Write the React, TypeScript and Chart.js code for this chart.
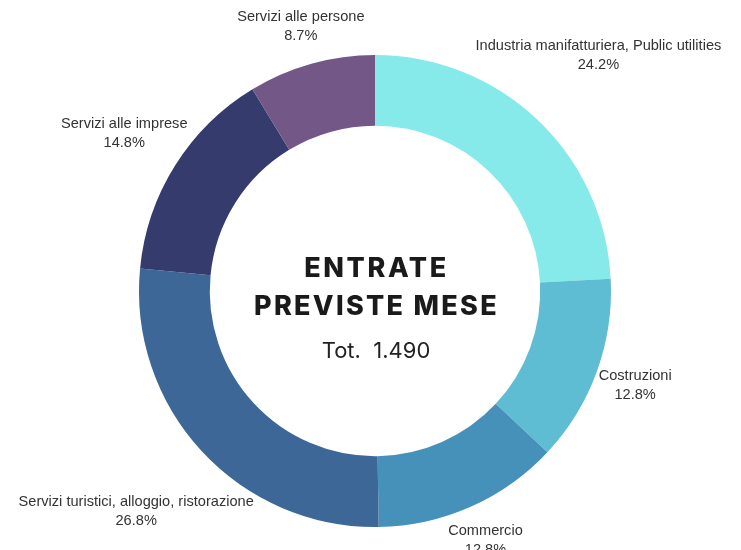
import React, { useEffect, useRef } from "react";
import { Chart, registerables } from "chart.js";

Chart.register(...registerables);

const categories = [
  "Industria manifatturiera, Public utilities",
  "Costruzioni",
  "Commercio",
  "Servizi turistici, alloggio, ristorazione",
  "Servizi alle imprese",
  "Servizi alle persone",
];
const shares = [24.2, 12.8, 12.8, 26.8, 14.8, 8.7];
const colors = ["#87EAEA", "#5EBCD3", "#4591BA", "#3C6796", "#353B6D", "#735786"];
const centerTitle = ["ENTRATE", "PREVISTE MESE"];
const centerTotal = "Tot.  1.490";

const labelPlugin = {
  id: "outerLabels",
  afterDatasetsDraw(chart: any) {
    const ctx = chart.ctx;
    const meta = chart.getDatasetMeta(0);
    ctx.save();
    ctx.font = "14.6px 'Liberation Sans', Arial, sans-serif";
    ctx.fillStyle = "#333333";
    ctx.textAlign = "center";
    ctx.textBaseline = "middle";
    const lineH = 19;
    meta.data.forEach((arc: any, i: number) => {
      const { x, y, startAngle, endAngle, outerRadius } = arc.getProps(
        ["x", "y", "startAngle", "endAngle", "outerRadius"],
        true
      );
      const mid = (startAngle + endAngle) / 2;
      const c = Math.cos(mid);
      const s = Math.sin(mid);
      const l1 = categories[i];
      const l2 = shares[i].toFixed(1) + "%";
      const w = Math.max(ctx.measureText(l1).width, ctx.measureText(l2).width);
      const h = lineH * 2;
      const r = outerRadius + 0.8 * Math.abs(c) * w / 2 + Math.abs(s) * h / 2 + 7;
      const cx = x + c * r;
      const cy = y + s * r;
      ctx.fillText(l1, cx, cy - lineH / 2);
      ctx.fillText(l2, cx, cy + lineH / 2);
    });
    // center text
    const cx = (chart.chartArea.left + chart.chartArea.right) / 2;
    const cy = (chart.chartArea.top + chart.chartArea.bottom) / 2;
    ctx.fillStyle = "#1a1a1a";
    ctx.font = "800 27px Inter, 'DejaVu Sans', sans-serif";
    (ctx as any).letterSpacing = "2.6px";
    ctx.fillText(centerTitle[0], cx + 1.5, cy - 22);
    (ctx as any).letterSpacing = "2.3px";
    ctx.fillText(centerTitle[1], cx + 1.5, cy + 16);
    (ctx as any).letterSpacing = "0px";
    ctx.font = "400 22px Inter, 'DejaVu Sans', sans-serif";
    ctx.fillStyle = "#222222";
    ctx.fillText(centerTotal, cx + 1, cy + 60);
    ctx.restore();
  },
};

export default function App() {
  const ref = useRef<HTMLCanvasElement | null>(null);
  useEffect(() => {
    document.body.style.margin = "0";
    const chart = new Chart(ref.current as HTMLCanvasElement, {
      type: "doughnut",
      data: {
        labels: categories,
        datasets: [
          {
            data: shares,
            backgroundColor: colors,
            borderWidth: 0,
          },
        ],
      },
      options: {
        responsive: false,
        animation: false,
        cutout: "70%",
        layout: { padding: { left: 138, right: 129, top: 55, bottom: 23 } },
        plugins: {
          legend: { display: false },
          tooltip: { enabled: false },
        },
      },
      plugins: [labelPlugin],
    });
    return () => chart.destroy();
  }, []);
  return (
    <div style={{ width: 741, height: 550, background: "#fff" }}>
      <canvas ref={ref} width={741} height={550} />
    </div>
  );
}
